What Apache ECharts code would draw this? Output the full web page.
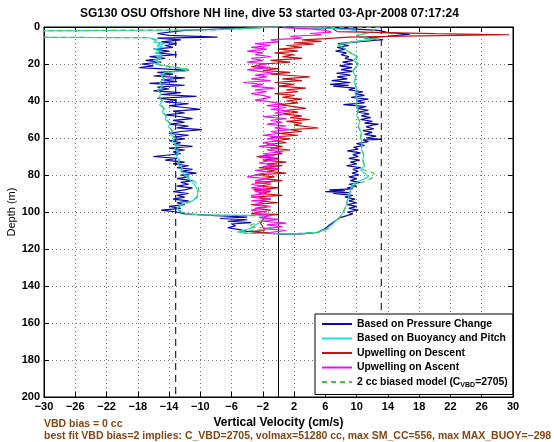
<!DOCTYPE html>
<html><head><meta charset="utf-8">
<script src="https://cdn.jsdelivr.net/npm/echarts@6/dist/echarts.min.js"></script>
<style>html,body{margin:0;padding:0;background:#fff}#c{width:554px;height:442px}</style>
</head><body><div id="c"></div>
<script>
const titleText = 'SG130 OSU Offshore NH line, dive 53 started 03-Apr-2008 07:17:24';
const xTicks = [-30,-26,-22,-18,-14,-10,-6,-2,2,6,10,14,18,22,26,30];
const xRange = [-30, 30];
const depthRange = [0, 200];
const depthStep = 20;
const zeroLineX = [0];
const biasLineX = [-13.15, 13.15];
const seriesNames = ['Based on Pressure Change','Based on Buoyancy and Pitch','Upwelling on Descent','Upwelling on Ascent','2 cc biased model'];
const noteLines = ['VBD bias = 0 cc','best fit VBD bias=2 implies: C_VBD=2705, volmax=51280 cc, max SM_CC=556, max MAX_BUOY=\u2212298'];

// [velocity cm/s, depth m]
const pressureDown = [[0,0],[-6,0.8],[-12,1.8],[-15.5,3.5],[-14,4.5],[-7.8,5.5],[-15.5,6],[-12.5,7],[-15,8],[-13,9],[-14.5,10],[-13.5,11],[-16,12],[-14,13],[-15.5,14],[-13,15],[-16.5,16],[-14.5,17],[-17,18],[-15,19],[-17.5,20],[-16,21],[-17.8,22],[-13,23],[-11.5,23.5],[-15.5,24.5],[-13.5,25.5],[-16,26.5],[-12,27.5],[-15,28.5],[-13,29.5],[-16.5,30.5],[-12,31.5],[-15.5,32.5],[-14,33.5],[-16,34.5],[-12.5,35.5],[-15,36.5],[-10.5,37.5],[-15.5,38.5],[-13,39.5],[-14.5,40.5],[-11.5,41.5],[-14,42.5],[-12,43.5],[-10,44.5],[-13.5,45.5],[-12,46.5],[-14.5,47.5],[-12.5,48.5],[-11,49.5],[-13.5,50.5],[-12,51.5],[-14,52.5],[-11.5,53.5],[-13,54.5],[-9.8,55.5],[-12.5,56.5],[-14,57.5],[-11.5,58.5],[-13.5,59.5],[-12,60.5],[-14,61.5],[-12.5,62.5],[-13.5,63.5],[-11,64.5],[-14,65.5],[-12,66.5],[-13.5,67.5],[-12.5,68.5],[-16,70],[-13,71],[-14.5,72],[-12,73],[-13.5,74],[-11.5,75],[-13,76],[-11,77],[-12.5,78],[-10.5,79],[-12.5,80],[-11.5,81],[-13,82],[-11,83],[-12.5,84],[-11.5,85],[-13,86],[-11,87],[-12,88],[-13.5,89],[-11.5,90],[-13,91],[-12,92],[-13.5,93],[-11.5,94],[-13,95],[-12,96],[-14,97],[-12.5,98],[-15,99],[-13,100],[-12,101],[-8,102],[-4,102.8],[-7.5,103.5],[-4,104.2],[-6.5,105],[-3.5,105.7],[-6,106.5],[-5.5,107.5],[-6.5,108.5],[-5,109.5],[-4,110.5],[-1,111.5],[0.5,112]];
const pressureUp = [[3,111.8],[5,111],[6,109],[6.5,107],[7.9,103],[9.5,101],[8.8,100],[10.2,99],[9,98],[10,97],[8.8,96],[10,95],[9,94],[9.8,93],[8.5,92],[9.5,91],[7,90],[9,89.5],[6,89],[8.5,88.5],[6.5,88],[9.5,87.5],[8.8,87],[10,86],[9,85],[10.4,84],[9.2,83],[10,82],[9,81],[10.3,80],[9.4,79],[10.2,78],[9.5,77],[10.5,76],[8.7,75],[10,74],[9.2,73],[10.4,72],[9,71],[10.2,70],[9.5,69],[10.5,68],[8.8,67],[10.2,66],[9.6,65],[11,64],[10,63],[11.5,62],[10.8,61],[13.2,60.7],[11.2,60],[12.5,59],[11,58],[12,57],[10.8,56],[12.2,55],[11.2,54],[12,53],[12.8,52.5],[11,52],[12,51],[10.5,50],[11.8,49],[10.6,48],[11.6,47],[10.2,46],[11.5,45],[10,44],[11.2,43],[8.3,42],[11,41],[10,40],[11.5,39],[9.3,38],[11,37],[9.8,36],[10.8,35],[9,34],[9.8,33],[7,32],[9,31.5],[6.6,31],[9.2,30],[6.8,29],[8.8,28],[7.5,27],[9.2,26],[7.4,25],[9.5,24],[8,23],[9.4,22],[7.8,21],[9.5,20],[8.2,19],[9.6,18],[8.5,17],[9,16],[8,15],[8.7,14],[7.3,13],[8.6,12],[7.5,11],[9,10],[7.6,9],[10,8],[13.4,6.9],[11,6],[14,5],[16.8,3.8],[14,3],[13,2],[10,1.2],[5,0.5],[1,0.1]];
const buoyDown = [[0,0],[-4,0.7],[-8,1.5],[-40,2.3],[-40,5.4],[-16.5,5.8],[-15.5,7],[-16,8],[-14.5,9],[-15.5,10],[-14.8,11],[-16,12],[-15,13],[-15.8,14],[-14.8,15],[-15.6,16],[-15,17],[-16,18],[-15.2,19],[-15.8,20],[-14.5,21],[-13,22],[-11.5,23],[-12,23.8],[-14.5,24.5],[-15,26],[-14.6,28],[-15.2,30],[-14.8,32],[-15.5,34],[-15,36],[-15.3,38],[-14.8,40],[-15.2,42],[-14.6,44],[-14.9,46],[-14.3,48],[-14.5,50],[-13.8,52],[-14.1,54],[-13.5,56],[-13.8,58],[-13.2,60],[-13.6,62],[-13,64],[-13.3,66],[-12.8,68],[-13.1,70],[-12.6,72],[-12.9,74],[-12.3,76],[-12.5,78],[-12,80],[-11.5,82],[-11,84],[-10.6,86],[-10.4,88],[-10.3,90],[-10.5,92],[-11,94],[-12.5,96],[-13,98],[-12.5,100],[-11.5,101],[-10,101.6],[-2,102],[-1.5,104],[-3,107],[-3.3,108.5],[-5.3,110.8],[-4,111.5],[2,111.8]];
const buoyUp = [[5,111],[6.3,109],[7,106],[7.8,103],[8.3,100],[8.6,97],[8.8,94],[9,91],[9.2,88],[9.5,85],[10.5,83],[11.5,81],[11,79],[10.5,77],[11,75],[10.8,72],[10.9,69],[10.6,66],[10.7,63],[10.5,60],[10.6,57],[10.2,54],[10.4,51],[10,48],[10.2,45],[9.9,42],[10.1,39],[9.8,36],[10,33],[9.7,30],[9.9,27],[9.5,24],[9.8,22],[10.2,20],[9.6,18],[10.1,16],[9.2,14],[8.7,12.5],[8.2,11],[7.6,9.7],[9.5,8],[12,6.5],[10.5,5.5],[10,4.5],[11.5,3.2],[9,1.5],[6,0.5],[2,0.1]];
const modelDown = [[0,0],[-8,1.5],[-40,2.3],[-40,5.4],[-16.5,5.8],[-15.8,7],[-15.2,9],[-15.6,11],[-15.2,13],[-15.6,15],[-15.3,17],[-15.7,19],[-15.2,20.5],[-13,22],[-11.3,23],[-12,23.8],[-14.5,24.5],[-15,26],[-14.7,28],[-15.1,30],[-14.9,32],[-15.4,34],[-15.1,36],[-15.2,38],[-14.9,40],[-15,42],[-14.7,44],[-14.8,46],[-14.4,48],[-14.4,50],[-13.9,52],[-14,54],[-13.6,56],[-13.7,58],[-13.3,60],[-13.5,62],[-13.1,64],[-13.2,66],[-12.9,68],[-13,70],[-12.7,72],[-12.8,74],[-12.4,76],[-12.3,78],[-11.8,80],[-11.2,82],[-10.6,84],[-10.3,86],[-10.2,88],[-10.2,90],[-10.4,92],[-11,94],[-12.4,96],[-12.9,98],[-12.4,100],[-11.4,101],[-10,101.6],[-2,102],[-1.8,104],[-3.5,107],[-3.8,108.2],[-0.5,108.5],[-1,109],[-5,110.8],[-4,111.5],[2,111.8]];
const modelUp = [[5,111],[6.3,109],[7,106],[7.8,103],[8.3,100],[8.6,97],[8.8,94],[9,91],[9.3,88],[9.8,85],[11,83.5],[12.3,81],[12.2,79],[10.8,77],[11,75],[10.8,72],[10.9,69],[10.6,66],[10.7,63],[10.5,60],[10.6,57],[10.2,54],[10.4,51],[10,48],[10.2,45],[9.9,42],[10.1,39],[9.8,36],[10,33],[9.7,30],[9.9,27],[9.5,24],[9.8,22],[10.2,20],[9.6,18],[10.1,16],[9.2,14],[8.7,12.5],[8.2,11],[7.6,9.7],[9.5,8],[13,6.5],[11,5.5],[10,4.5],[11.5,3.2],[13,0.3],[6,0.2],[2,0.1]];
const upDescent = [[7,1],[7.5,2.5],[20,3.6],[29.5,4.2],[18,4.8],[9,5.5],[6,6.3],[3,7],[5.5,7.8],[2,8.5],[4.5,9.3],[1,10],[3,11],[0,12],[2.5,13],[-0.5,14],[2,15],[0.5,16],[3,17],[-1,18],[1.5,19],[-2,20],[-3.5,21.5],[0,22.5],[-2,23.5],[1.5,24.5],[-1,25.5],[2.5,26.5],[4,27],[0.5,28],[3,29],[-0.5,30],[2,31],[0,32],[3.5,33],[1,34],[2.5,35],[-0.5,36],[2,37],[0.5,38],[3,39],[1,40],[2.5,41],[0,42],[2,43],[3.5,44],[1,45],[2.5,46],[0.5,47],[3,48],[1.5,49],[4,50],[1,51],[3,52],[2,53],[5.1,54.6],[1.5,55.5],[3,56.5],[0,57.5],[2.5,58.5],[-1,59.5],[1.5,60.5],[-0.5,61.5],[1,62.5],[-1.5,63.5],[0.5,64.5],[-1,65.5],[1.5,66.5],[-0.5,67.5],[0.5,68.5],[-2.8,70],[0,71],[-2,72],[1,73],[-1.5,74],[0.5,75],[-2.5,76],[0,77],[-1.5,78],[1,79],[-3,80],[-0.5,81],[-2,82],[0.5,83],[-3,84],[-1,85],[-2.5,86],[0,87],[-3.2,88],[-1,89],[-2.5,90],[0.5,91],[-3.5,92],[-1,93],[-2.5,94],[0,95],[-3.5,96],[-1.5,97],[-3,98],[-1,99],[-2.5,100],[-3.5,101],[0,101.3],[-1.5,102],[-2,104],[-2.3,106],[-2,108],[-1.8,110],[-3.5,110.5],[-1,111.5]];
const upAscent = [[0.5,0.3],[4,1],[6,1.8],[6.8,2.8],[4,3.5],[5.5,4.3],[1.5,5],[3,6],[-1,7],[0,8],[-3,9],[-1,10],[-3.5,11],[-1.5,12],[-4,13],[-2,14],[-3,15],[-1,16],[-3.5,17],[-2,18],[-4,19],[-1.5,20],[-3,21],[-1,22],[-4,23],[-2.5,24],[-0.5,25],[-3,26],[-1.5,27],[-3.5,28],[-1,29],[-4.5,30],[-2,31],[-3.5,32],[-0.5,33],[-3,34],[-1.5,35],[-3.5,36],[-2,37],[-1,38],[-3,39.5],[-1,40.5],[0.5,41.5],[-1.5,42.5],[1,43.5],[-1,44.5],[1.5,45.5],[-0.5,46.5],[0.5,47.5],[-2,48.5],[1,49.5],[-1,50.5],[0.5,51.5],[-1.5,52.5],[1,53.5],[-0.5,54.5],[1.5,55.5],[-1,56.5],[0,57.5],[-2,58.5],[0.5,59.5],[-1.5,60.5],[0,61.5],[-2,62.5],[-0.5,63.5],[-2.5,64.5],[0,65.5],[-1.5,66.5],[0.5,67.5],[-2,68.5],[-0.5,69.5],[-2.5,70.5],[0,71.5],[-1.5,72.5],[-2.5,73.5],[-0.5,74.5],[-2,75.5],[0,76.5],[-3,77.5],[-1,78.5],[-2.5,79.5],[-4,81],[-1.5,82],[-3,83],[-1,84],[-3.5,85],[-2,86],[-3.5,87],[-1,88],[-3,89],[-1.5,90],[-3.5,91],[-2.5,92],[-1,93],[-3.5,94],[-2,95],[-3,96],[-1,97],[-2.5,98],[-3.5,99],[-1.5,100],[-3,101],[-1,102],[-2.5,103],[0,104],[-2,105],[1,106],[-1.5,107],[0.5,108],[-2,109],[1,110],[-1,111],[-0.5,112]];

const FONT = '"Liberation Sans", Arial, Helvetica, sans-serif';
const chart = echarts.init(document.getElementById('c'), null, {renderer:'canvas'});
const minus = v => String(v).replace('-', '\u2212');
const vline = (x, dashed) => ({
  type:'line', data: depthRange.map(d => [x, d]), symbol:'none', silent:true,
  lineStyle:{color:'#000', width:1, type: dashed ? [7,5] : 'solid'}, z:1, legendHoverLink:false
});
const dataSeries = [
  {name:seriesNames[0], data: pressureDown.concat(pressureUp), color:'#0a0aa8', width:1.2},
  {name:seriesNames[1], data: buoyDown.concat(buoyUp), color:'#22dede', width:1.2},
  {name:seriesNames[2], data: upDescent, color:'#cc1010', width:1.2},
  {name:seriesNames[3], data: upAscent, color:'#ee10ee', width:1.2},
  {name:seriesNames[4], data: modelDown.concat(modelUp), color:'#3ccc3c', width:1.2, dash:[5,4]}
].map(s => ({
  type:'line', name:s.name, data:s.data, symbol:'none', showSymbol:false, clip:true,
  color:s.color, lineStyle:{color:s.color, width:s.width, type: s.dash || 'solid'}, z:3
}));
const refSeries = [vline(zeroLineX[0], false)].concat(biasLineX.map(x => vline(x, true)));

const axisText = {color:'#000', fontFamily:FONT, fontWeight:'bold', fontSize:11};
chart.setOption({
  animation:false,
  backgroundColor:'#fff',
  title:{text:titleText, left:75, top:3, textStyle:{fontFamily:FONT, fontWeight:'bold', fontSize:12, color:'#000'}},
  grid:{left:44, right:41, top:27, bottom:45, show:true, borderColor:'#000', borderWidth:1, backgroundColor:'#fff', outerBoundsMode:'none', containLabel:false},
  legend:{
    data:seriesNames, orient:'vertical', left:315, top:314, itemWidth:30, itemHeight:12, itemGap:4.5,
    padding:[5,5,6,6], backgroundColor:'#fff', borderColor:'#000', borderWidth:1, borderRadius:0,
    selectedMode:false,
    itemStyle:{opacity:0, color:'transparent', borderColor:'transparent', borderWidth:0},
    textStyle:{fontFamily:FONT, fontWeight:'bold', fontSize:10.4, color:'#000',
      rich:{sub:{fontFamily:FONT, fontWeight:'bold', fontSize:7, color:'#000', padding:[6,0,0,0]}}},
    formatter: n => n === seriesNames[4] ? n + ' (C{sub|VBD}=2705)' : n
  },
  xAxis:[{
    type:'value', min:xRange[0], max:xRange[1], position:'bottom',
    name:'Vertical Velocity (cm/s)', nameLocation:'middle', nameGap:20, nameMoveOverlap:false,
    nameTextStyle:{fontFamily:FONT, fontWeight:'bold', fontSize:12, color:'#000'},
    axisLine:{show:true, onZero:false, lineStyle:{color:'#000'}},
    axisTick:{show:true, inside:true, length:5, customValues:xTicks, lineStyle:{color:'#000'}},
    axisLabel:{customValues:xTicks, formatter:minus, margin:4, ...axisText},
    splitLine:{show:true, lineStyle:{color:'#777', type:[1,3], width:1}}
  },{
    type:'value', min:xRange[0], max:xRange[1], position:'top',
    axisLine:{show:true, onZero:false, lineStyle:{color:'#000'}},
    axisTick:{show:true, inside:true, length:5, customValues:xTicks, lineStyle:{color:'#000'}},
    axisLabel:{show:false}, splitLine:{show:false}
  }],
  yAxis:[{
    type:'value', min:depthRange[0], max:depthRange[1], interval:depthStep, inverse:true,
    name:'Depth (m)', nameLocation:'middle', nameGap:27, nameMoveOverlap:false,
    nameTextStyle:{fontFamily:FONT, fontSize:11, color:'#000'},
    axisLine:{show:true, onZero:false, lineStyle:{color:'#000'}},
    axisTick:{show:true, inside:true, length:5, lineStyle:{color:'#000'}},
    axisLabel:{margin:4, ...axisText},
    splitLine:{show:true, lineStyle:{color:'#777', type:[1,3], width:1}}
  },{
    type:'value', min:depthRange[0], max:depthRange[1], interval:depthStep, inverse:true, position:'right',
    axisLine:{show:true, onZero:false, lineStyle:{color:'#000'}},
    axisTick:{show:true, inside:true, length:5, lineStyle:{color:'#000'}},
    axisLabel:{show:false}, splitLine:{show:false}
  }],
  graphic:[
    {type:'text', left:44, top:419, style:{text:noteLines[0], fill:'#8a4414', font:'bold 10.5px ' + FONT}},
    {type:'text', left:44, top:431, style:{text:noteLines[1], fill:'#8a4414', font:'bold 10.5px ' + FONT}}
  ],
  series: refSeries.concat(dataSeries)
});
</script></body></html>
